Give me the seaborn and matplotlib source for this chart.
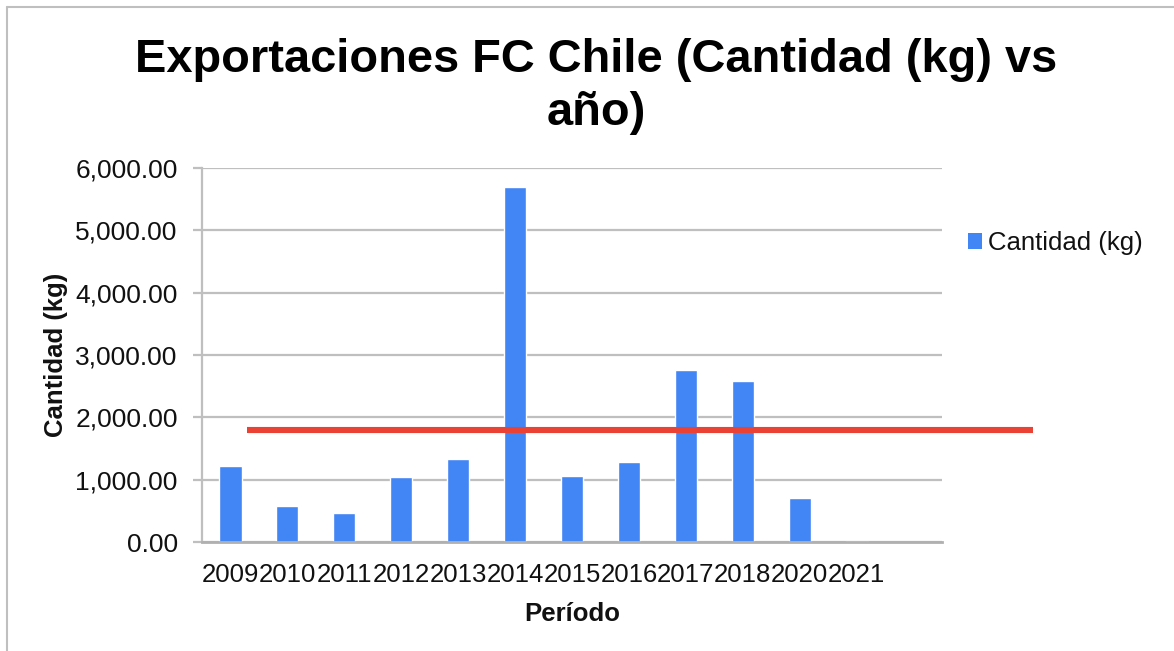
import matplotlib
matplotlib.use("Agg")
import matplotlib.pyplot as plt
from matplotlib.lines import Line2D
from matplotlib.patches import Patch
from matplotlib.ticker import FuncFormatter, FixedLocator
import seaborn as sns
import pandas as pd

# Exported quantity per year (kg)
periodos = ["2009", "2010", "2011", "2012", "2013", "2014",
            "2015", "2016", "2017", "2018", "2020", "2021"]
cantidad_kg = [1220, 578, 460, 1043, 1327, 5693,
               1059, 1284, 2760, 2589, 701, 15]
umbral_kg = 1800
y_ticks = [0, 1000, 2000, 3000, 4000, 5000, 6000]

titulo_l1 = "Exportaciones FC Chile (Cantidad (kg) vs"
titulo_l2 = "año)"
serie = "Cantidad (kg)"

df = pd.DataFrame({"Periodo": periodos, "Cantidad": cantidad_kg})

sns.set_theme(style="white")
plt.rcParams["font.family"] = ["Liberation Sans", "DejaVu Sans"]

W, H = 1174, 651
fig = plt.figure(figsize=(W / 100, H / 100), dpi=100)
ax = fig.add_axes([202 / W, 1 - 542 / H, 740 / W, (542 - 168) / H])

azul = "#4285F4"
rojo = "#EA4335"
gris = "#BFBFBF"

sns.barplot(data=df, x="Periodo", y="Cantidad", color=azul, saturation=1,
            width=0.39, ax=ax)

ax.set_xlim(-0.5, 12.5)
ax.set_ylim(0, 6000)
ax.yaxis.set_major_locator(FixedLocator(y_ticks))
ax.yaxis.set_major_formatter(FuncFormatter(lambda v, _: f"{v:,.2f}"))

ax.grid(axis="y", color=gris, linewidth=1.6)
ax.set_axisbelow(True)
for side in ["top", "right"]:
    ax.spines[side].set_visible(False)
ax.spines["left"].set_color(gris)
ax.spines["left"].set_linewidth(1.6)
ax.spines["bottom"].set_color("#B0B0B0")
ax.spines["bottom"].set_linewidth(2.0)

ax.tick_params(axis="y", length=6.5, width=1.6, color=gris, pad=11,
               labelsize=19, labelcolor="#111111", left=True)
ax.tick_params(axis="x", length=0, pad=15, labelsize=18.5,
               labelcolor="#111111")

ax.set_xlabel("Período", fontsize=18.5, fontweight="bold", labelpad=11,
              color="#111111")
ax.set_ylabel("Cantidad (kg)", fontsize=18.5, fontweight="bold", labelpad=5,
              color="#111111")

# reference line across the chart, running into the legend area
ax.axhline(umbral_kg, xmin=(247 - 202) / 740, xmax=(1033 - 202) / 740,
           color=rojo, linewidth=4.4, clip_on=False, solid_capstyle="butt",
           zorder=5)

fig.text(596 / W, 1 - 72 / H, titulo_l1, ha="center", va="baseline",
         fontsize=33.8, fontweight="bold", color="black")
fig.text(596 / W, 1 - 125 / H, titulo_l2, ha="center", va="baseline",
         fontsize=33.8, fontweight="bold", color="black")

leg = fig.legend(handles=[Patch(facecolor=azul, edgecolor="none", label=serie)],
                 loc="center left", bbox_to_anchor=(955 / W, 1 - 243 / H),
                 frameon=False, fontsize=18.5, handlelength=0.55,
                 handleheight=0.55, handletextpad=0.25, borderpad=0)
for t in leg.get_texts():
    t.set_color("#111111")

# chart frame edges at left and top
fig.add_artist(Line2D([7 / W, 7 / W], [0, 1 - 7 / H], transform=fig.transFigure,
                      color=gris, linewidth=1.5))
fig.add_artist(Line2D([7 / W, 1], [1 - 7 / H, 1 - 7 / H], transform=fig.transFigure,
                      color=gris, linewidth=1.5))

fig.savefig("out.png", dpi=100, facecolor="white")
